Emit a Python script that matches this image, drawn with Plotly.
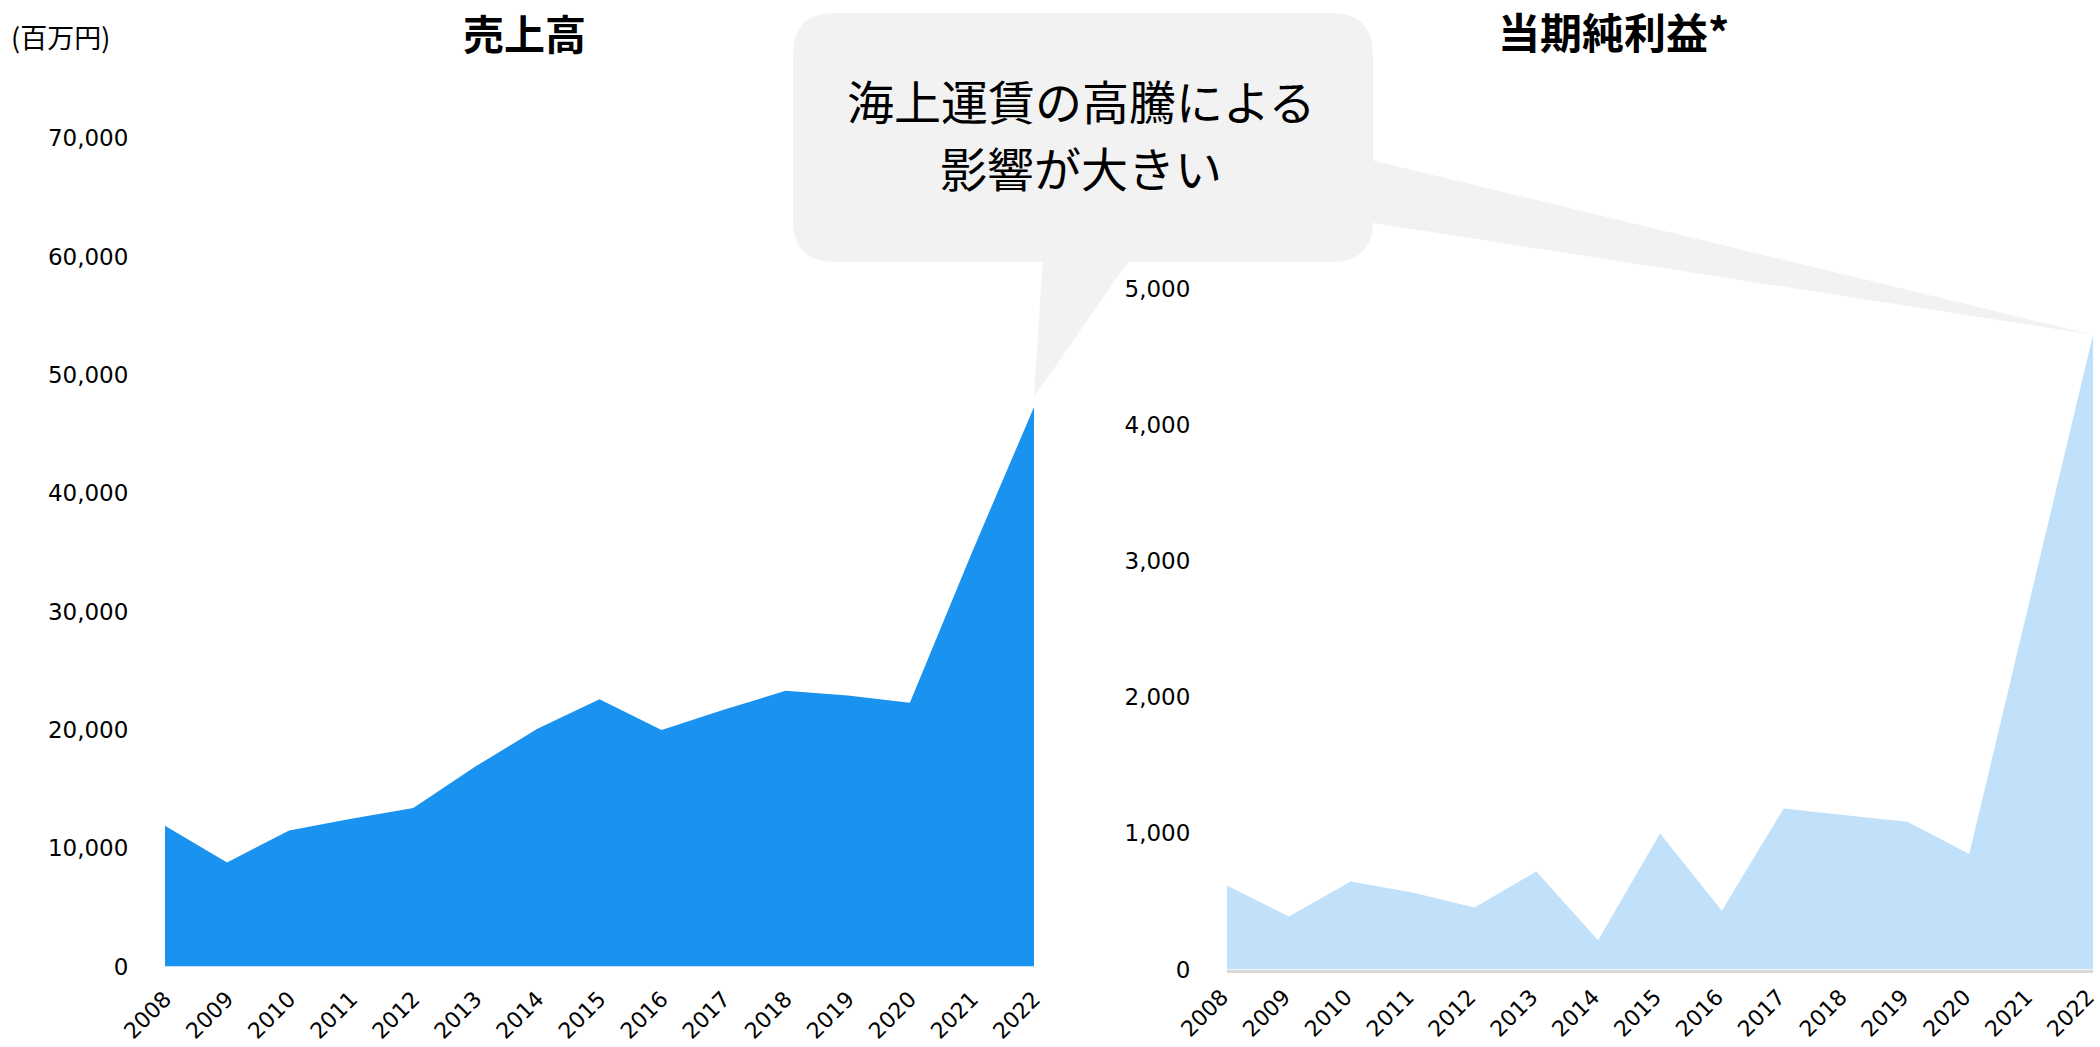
import plotly.graph_objects as go

# ---- data ----
years = list(range(2008, 2023))
year_labels = [str(y) for y in years]
sales = [11900, 8800, 11500, 12500, 13400, 16900, 20100, 22600, 20000, 21700, 23300, 22900, 22300, 35000, 47300]
net_income = [617, 390, 646, 566, 456, 720, 215, 1000, 432, 1183, 1134, 1085, 849, 2757, 4664]
sales_ticks = [0, 10000, 20000, 30000, 40000, 50000, 60000, 70000]
income_ticks = [0, 1000, 2000, 3000, 4000, 5000]
title_left = "売上高"
title_right = "当期純利益*"
unit_label = "(百万円)"
callout_lines = ["海上運賃の高騰による", "影響が大きい"]

# ---- geometry (pixels on 2100x1047 canvas) ----
W, H = 2100, 1047
def px(x):
    return x / W
def py(y):
    return 1 - y / H

L_x = (165, 1034); L_y = (966.5, 138.4)   # bottom(0), top(70000)
R_x = (1227, 2093); R_y = (969.5, 289.0)  # bottom(0), top(5000)
L_max, R_max = 70000, 5000

def data_to_px(year, val, xr, yr, vmax):
    x = xr[0] + (year - years[0]) / (years[-1] - years[0]) * (xr[1] - xr[0])
    y = yr[0] + val / vmax * (yr[1] - yr[0])
    return x, y

NUM_FONT = "DejaVu Sans, Noto Sans CJK JP, sans-serif"
CJK_FONT = "Noto Sans CJK JP, sans-serif"

fig = go.Figure()
fig.add_trace(go.Scatter(x=years, y=sales, mode="none", fill="tozeroy",
                         fillcolor="#1A93F0", xaxis="x", yaxis="y", hoverinfo="x+y"))
fig.add_trace(go.Scatter(x=years, y=net_income, mode="none", fill="tozeroy",
                         fillcolor="#C1E1FA", xaxis="x2", yaxis="y2", hoverinfo="x+y"))

xcommon = dict(tickmode="array", tickvals=years, ticktext=year_labels, tickangle=-45,
               showgrid=False, zeroline=False, ticks="outside",
               tickcolor="rgba(0,0,0,0)", tickfont=dict(family=NUM_FONT, size=22, color="#000"),
               range=[years[0], years[-1]], fixedrange=True, automargin=False,
               ticklabeloverflow="allow")
ycommon = dict(showgrid=False, zeroline=False, showline=False, ticks="outside", ticklen=31,
               tickcolor="rgba(0,0,0,0)", tickformat=",", tickmode="array",
               tickfont=dict(family=NUM_FONT, size=23, color="#000"), fixedrange=True,
               automargin=False, ticklabeloverflow="allow")

fig.update_layout(
    template="none",
    width=W, height=H,
    margin=dict(l=0, r=0, t=0, b=0, pad=0, autoexpand=False),
    paper_bgcolor="white", plot_bgcolor="white",
    showlegend=False,
    xaxis=dict(domain=[px(L_x[0]), px(L_x[1])], anchor="y", showline=False, ticklen=10, **xcommon),
    yaxis=dict(domain=[py(L_y[0]), py(L_y[1])], anchor="x", range=[0, L_max],
               tickvals=sales_ticks, **ycommon),
    xaxis2=dict(domain=[px(R_x[0]), px(R_x[1])], anchor="y2", showline=True,
                linecolor="#D9D9D9", linewidth=3, ticklen=3, ticklabelshift=-5, **xcommon),
    yaxis2=dict(domain=[py(R_y[0]), py(R_y[1])], anchor="x2", range=[0, R_max],
                tickvals=income_ticks, **ycommon),
)

# ---- callout bubble ----
bx0, bx1, by0, by1, r = 793, 1373, 13, 262, 42
def P(x, y):
    return f"{px(x):.6f},{py(y):.6f}"
rect = (f"M {P(bx0 + r, by0)} L {P(bx1 - r, by0)} Q {P(bx1, by0)} {P(bx1, by0 + r)} "
        f"L {P(bx1, by1 - r)} Q {P(bx1, by1)} {P(bx1 - r, by1)} "
        f"L {P(bx0 + r, by1)} Q {P(bx0, by1)} {P(bx0, by1 - r)} "
        f"L {P(bx0, by0 + r)} Q {P(bx0, by0)} {P(bx0 + r, by0)} Z")
fig.add_shape(type="path", xref="paper", yref="paper", path=rect,
              fillcolor="#F2F2F2", line=dict(width=0), layer="above")

ltx, lty = data_to_px(years[-1], sales[-1], L_x, L_y, L_max)
lty -= 10
left_tail = f"M {P(1043, by1 - 6)} L {P(ltx, lty)} L {P(1132, by1 - 6)} Z"
fig.add_shape(type="path", xref="paper", yref="paper", path=left_tail,
              fillcolor="#F2F2F2", line=dict(width=0), layer="above")

rtx, rty = data_to_px(years[-1], net_income[-1], R_x, R_y, R_max)
right_tail = f"M {P(bx1 - 6, 159)} L {P(rtx, rty)} L {P(bx1 - 6, 222)} Z"
fig.add_shape(type="path", xref="paper", yref="paper", path=right_tail,
              fillcolor="#F2F2F2", line=dict(width=0), layer="above")

# ---- texts ----
cx = (bx0 + bx1) / 2 - 2
for line, yy in zip(callout_lines, [99, 166]):
    fig.add_annotation(x=px(cx), y=py(yy), xref="paper", yref="paper", text=line,
                       showarrow=False, xanchor="center", yanchor="middle",
                       font=dict(family=CJK_FONT, size=47, color="#000"))

fig.add_annotation(x=px(524), y=py(32), xref="paper", yref="paper", text=f"<b>{title_left}</b>",
                   showarrow=False, xanchor="center", yanchor="middle",
                   font=dict(family=CJK_FONT, size=41, color="#000"))
fig.add_annotation(x=px(1613), y=py(30), xref="paper", yref="paper", text=f"<b>{title_right}</b>",
                   showarrow=False, xanchor="center", yanchor="middle",
                   font=dict(family=CJK_FONT, size=42, color="#000"))
fig.add_annotation(x=px(9), y=py(36), xref="paper", yref="paper", text=unit_label,
                   showarrow=False, xanchor="left", yanchor="middle",
                   font=dict(family=CJK_FONT, size=27, color="#000"))

fig.write_html("out.html")
